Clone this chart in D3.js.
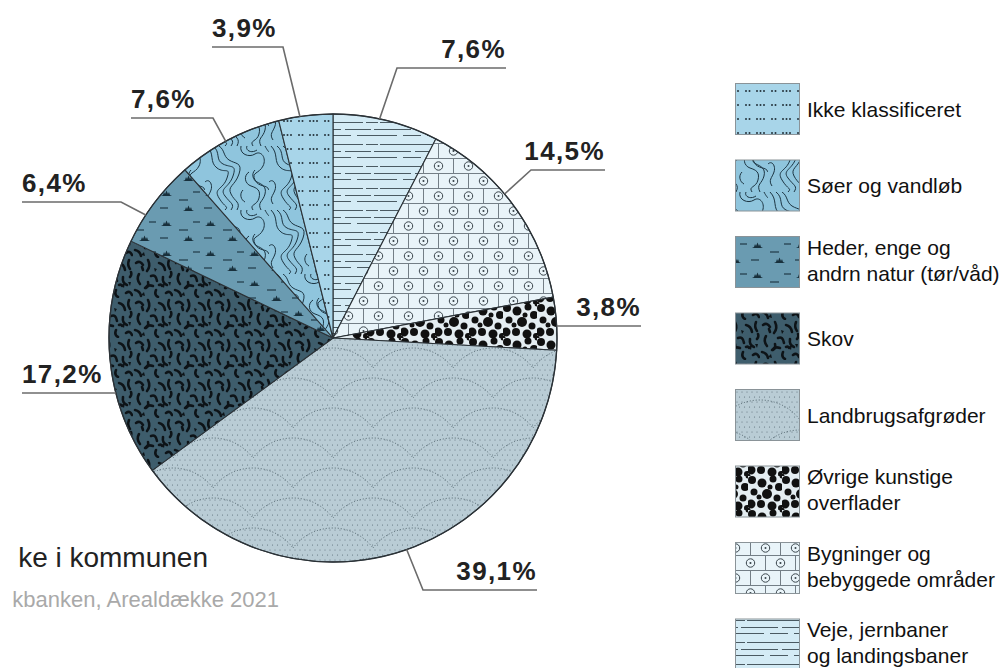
<!DOCTYPE html>
<html>
<head>
<meta charset="utf-8">
<script src="https://cdn.jsdelivr.net/npm/d3@7/dist/d3.min.js"></script>
<style>
  html, body { margin: 0; padding: 0; background: #fff; }
  svg { display: block; font-family: "Liberation Sans", Arial, sans-serif; }
</style>
</head>
<body>
<svg id="chart" width="1007" height="668"></svg>
<script>
// ---------- DATA ----------
const categories = [
  "Veje, jernbaner og landingsbaner",
  "Bygninger og bebyggede områder",
  "Øvrige kunstige overflader",
  "Landbrugsafgrøder",
  "Skov",
  "Heder, enge og andrn natur (tør/våd)",
  "Søer og vandløb",
  "Ikke klassificeret"
];
const shares = [7.6, 14.5, 3.8, 39.1, 17.2, 6.4, 7.6, 3.9];
const shareLabels = ["7,6%", "14,5%", "3,8%", "39,1%", "17,2%", "6,4%", "7,6%", "3,9%"];

const legendOrder = [7, 6, 5, 4, 3, 2, 1, 0];
const legendLines = [
  ["Veje, jernbaner", "og landingsbaner"],
  ["Bygninger og", "bebyggede områder"],
  ["Øvrige kunstige", "overflader"],
  ["Landbrugsafgrøder"],
  ["Skov"],
  ["Heder, enge og", "andrn natur (tør/våd)"],
  ["Søer og vandløb"],
  ["Ikke klassificeret"]
];
const titleVisible = "ke i kommunen";
const sourceVisible = "kbanken, Arealdække 2021";

// ---------- LAYOUT (positions / styles) ----------
const W = 1007, H = 668;
const cx = 333, cy = 338, R = 224;
// label leader layout: anchor angle on rim (deg), elbow point, line end x, side
const labelLayout = [
  {ang: 12,    elbow: [397, 68],  endX: 506, side: "right"},
  {ang: 50,    elbow: [531, 170], endX: 605, side: "right"},
  {ang: 86.9,  elbow: null, lineY: 326, endX: 641, side: "right"},
  {ang: 160.8, elbow: [423, 590], endX: 537, side: "right"},
  {ang: 255.8, elbow: null, lineY: 393, endX: 22, side: "left"},
  {ang: 303.3, elbow: [121, 202], endX: 22, side: "left"},
  {ang: 331.4, elbow: [213, 118], endX: 131, side: "left"},
  {ang: 351.5, elbow: [283, 47],  endX: 212, side: "left"}
];

const svg = d3.select("#chart");
const defs = svg.append("defs");

function pat(id, w, h, bg) {
  const p = defs.append("pattern").attr("id", id)
    .attr("patternUnits", "userSpaceOnUse").attr("width", w).attr("height", h);
  p.append("rect").attr("width", w).attr("height", h).attr("fill", bg);
  return p;
}

// Ikke klassificeret: dots in groups of three
{
  const p = pat("p-ikke", 26, 14, "#a8d5e9");
  [[3,7],[6.5,7],[10,7],[18,7],[21.5,7]].forEach(d =>
    p.append("circle").attr("cx", d[0]).attr("cy", d[1]).attr("r", 1).attr("fill", "#23323b"));
}
// Søer og vandløb: contour lines
{
  const p = pat("p-soer", 64, 64, "#8fc5dd");
  const paths = [
    "M2,0 C10,8 4,16 12,22 S26,20 22,32 S8,42 14,52 S24,60 20,64",
    "M8,0 C16,6 10,14 18,18 S32,18 28,30 S14,42 20,50 S30,58 26,64",
    "M14,0 C20,4 18,10 24,14 S38,16 34,28 S22,40 26,48 S36,56 32,64",
    "M36,0 C34,8 44,12 50,8 S62,12 58,20 S46,26 50,34 S62,38 64,44",
    "M42,0 C40,4 46,8 52,4",
    "M44,26 C38,30 40,38 46,40 S56,44 54,52 S44,58 48,64",
    "M50,24 C46,28 48,34 52,36 S62,40 60,48 S52,56 56,64",
    "M0,36 C4,32 8,38 6,44 S0,52 4,58",
    "M60,0 C62,4 64,6 64,6",
    "M38,44 C34,48 36,54 40,56"
  ];
  paths.forEach(d => p.append("path").attr("d", d).attr("fill", "none")
    .attr("stroke", "#1a3341").attr("stroke-width", 1));
}
// Heder: marsh tufts and dashes
{
  const p = pat("p-heder", 44, 30, "#6a9bb1");
  const tuft = "l2,-1 l1,-3 l1,2 l1.5,-3.5 l1.5,3.5 l1,-2 l1,3 l2,1 z";
  [[4,8],[26,23]].forEach(d => p.append("path").attr("d", `M${d[0]},${d[1]} ${tuft}`).attr("fill", "#18303c"));
  [[22,12,9],[3,20,8],[36,4,7]].forEach(d => p.append("line")
    .attr("x1", d[0]).attr("y1", d[1]).attr("x2", d[0] + d[2]).attr("y2", d[1])
    .attr("stroke", "#18303c").attr("stroke-width", 1.1));
}
// Skov: black irregular blobs
{
  const p = pat("p-skov", 40, 40, "#3e5d6c");
  const strokes = [
    "M3,5 q4,-3 7,2", "M15,2 q3,6 -1,11", "M26,5 q5,1 6,7", "M36,2 q-2,5 1,9",
    "M6,16 q-3,5 1,10", "M18,18 q5,-2 6,5", "M30,19 q-1,6 4,8", "M2,32 q5,1 6,6",
    "M12,30 q3,-4 8,-2", "M23,32 q-2,5 2,7", "M33,35 q4,-3 6,2", "M15,24 q1,4 -2,6",
    "M38,14 q1,3 -1,5", "M9,9 l1,3", "M26,27 q2,-1 3,1"
  ];
  strokes.forEach(d => p.append("path").attr("d", d).attr("fill", "none")
    .attr("stroke", "#0d1317").attr("stroke-width", 2.6).attr("stroke-linecap", "round"));
  ["M28,27 l4,-2 l-1,5 z", "M8,37 l3,-3 l1,4 z", "M21,10 l3,1 l-2,3 z", "M35,24 l3,0 l-1,4 z"].forEach(d =>
    p.append("path").attr("d", d).attr("fill", "#0d1317"));
}
// Landbrug: fine dots + dotted scallop arcs
{
  const p = pat("p-land", 80, 60, "#b9ccd5");
  for (let y = 2; y < 60; y += 5) {
    for (let x = ((y / 5) % 2) * 2.5 + 1; x < 80; x += 5) {
      p.append("circle").attr("cx", x).attr("cy", y).attr("r", 0.55).attr("fill", "#5c6f79");
    }
  }
  ["M0,60 A50,50 0 0 1 80,60", "M-40,30 A50,50 0 0 1 40,30", "M40,30 A50,50 0 0 1 120,30"].forEach(d =>
    p.append("path").attr("d", d).attr("fill", "none").attr("stroke", "#4c5f68")
      .attr("stroke-width", 1).attr("stroke-dasharray", "1 2"));
}
// Øvrige kunstige overflader: black circles
{
  const p = pat("p-ovrige", 34, 34, "#e4edf1");
  [[4,4,4],[14,7,4.5],[25,3,3.5],[31,11,4],[6,16,3.5],[19,18,5],[29,22,3.5],
   [3,28,4.5],[13,28,4],[24,30,4.5],[33,32,3],[11,21,2.5],[22,11,2.5],[34,0,2.5],[0,34,2.5]].forEach(d =>
    p.append("circle").attr("cx", d[0]).attr("cy", d[1]).attr("r", d[2]).attr("fill", "#111"));
}
// Bygninger: brick grid with circled dots
{
  const p = pat("p-byg", 30, 30, "#e9f4f9");
  const gcol = "#737e86";
  p.append("line").attr("x1", 0).attr("x2", 30).attr("y1", 0.5).attr("y2", 0.5).attr("stroke", gcol);
  p.append("line").attr("x1", 0).attr("x2", 30).attr("y1", 15.5).attr("y2", 15.5).attr("stroke", gcol);
  p.append("line").attr("x1", 0.5).attr("x2", 0.5).attr("y1", 0).attr("y2", 15).attr("stroke", gcol);
  p.append("line").attr("x1", 15.5).attr("x2", 15.5).attr("y1", 15).attr("y2", 30).attr("stroke", gcol);
  [[15.5,8],[0.5,23],[30.5,23]].forEach(d => {
    p.append("circle").attr("cx", d[0]).attr("cy", d[1]).attr("r", 4.2)
      .attr("fill", "none").attr("stroke", "#3a454c").attr("stroke-width", 1);
    p.append("circle").attr("cx", d[0]).attr("cy", d[1]).attr("r", 1).attr("fill", "#3a454c");
  });
}
// Veje: horizontal dashed lines
{
  const p = pat("p-veje", 70, 22, "#d4ebf5");
  [[4.5, "30 3 12 2 23 0"], [11.5, "8 4 26 3 29 0"], [17.5, "18 6 40 6"]].forEach(r =>
    p.append("line").attr("x1", 0).attr("x2", 70).attr("y1", r[0]).attr("y2", r[0])
      .attr("stroke", "#4a5a62").attr("stroke-width", 1).attr("stroke-dasharray", r[1]));
}

const fills = ["url(#p-veje)", "url(#p-byg)", "url(#p-ovrige)", "url(#p-land)",
               "url(#p-skov)", "url(#p-heder)", "url(#p-soer)", "url(#p-ikke)"];

// ---------- TITLE (partly cut at left edge) ----------
svg.append("text").attr("x", 208).attr("y", 567).attr("text-anchor", "end")
  .attr("font-size", 28).attr("fill", "#222").text(titleVisible);
svg.append("text").attr("x", 279).attr("y", 607).attr("text-anchor", "end")
  .attr("font-size", 22).attr("fill", "#a9a9a9").text(sourceVisible);

// ---------- PIE ----------
const pie = d3.pie().sort(null).value(d => d)(shares);
const arc = d3.arc().innerRadius(0).outerRadius(R);
const g = svg.append("g").attr("transform", `translate(${cx},${cy})`);
g.selectAll("path.slice").data(pie).join("path").attr("class", "slice")
  .attr("d", arc)
  .attr("fill", (d, i) => fills[i])
  .attr("stroke", "#2b3237").attr("stroke-width", 1.1).attr("stroke-linejoin", "round");
g.append("circle").attr("r", R).attr("fill", "none").attr("stroke", "#2b3237").attr("stroke-width", 1.3);

// ---------- LABELS ----------
const rad = Math.PI / 180;
shareLabels.forEach((lab, i) => {
  const L = labelLayout[i];
  const ax = cx + R * Math.sin(L.ang * rad), ay = cy - R * Math.cos(L.ang * rad);
  let pts, lineY;
  if (L.elbow) { lineY = L.elbow[1]; pts = [[ax, ay], L.elbow, [L.endX, lineY]]; }
  else { lineY = L.lineY; pts = [[ax, lineY], [L.endX, lineY]]; }
  svg.append("path").attr("d", d3.line()(pts)).attr("fill", "none")
    .attr("stroke", "#6b6b6b").attr("stroke-width", 1.6);
  svg.append("text")
    .attr("x", L.endX)
    .attr("y", lineY - 10)
    .attr("text-anchor", L.side === "right" ? "end" : "start")
    .attr("font-size", 26).attr("font-weight", "bold").attr("letter-spacing", 1.4)
    .attr("fill", "#222").text(lab);
});

// ---------- LEGEND ----------
const lg = svg.append("g");
legendOrder.forEach((ci, k) => {
  const y0 = 83 + k * 76.5;
  lg.append("rect").attr("x", 735.5).attr("y", y0 + 0.5).attr("width", 64).attr("height", 51)
    .attr("fill", fills[ci]).attr("stroke", "#8a9398").attr("stroke-width", 1);
  const lines = legendLines[ci];
  const mid = y0 + 25.5;
  const base = lines.length === 1 ? mid + 8 : mid - 7;
  lines.forEach((t, j) => lg.append("text").attr("x", 807).attr("y", base + j * 26)
    .attr("font-size", 21).attr("fill", "#111").text(t));
});
</script>
</body>
</html>
